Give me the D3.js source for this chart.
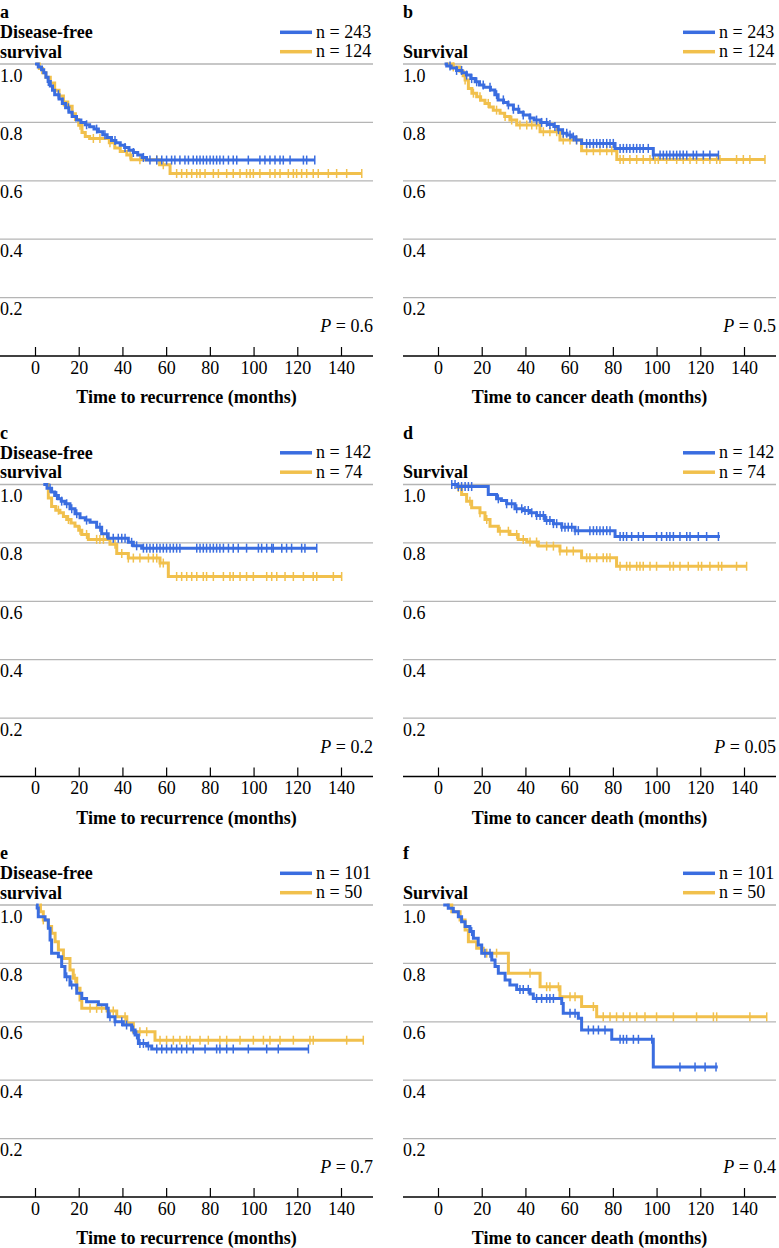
<!DOCTYPE html>
<html><head><meta charset="utf-8">
<script src="https://cdn.jsdelivr.net/npm/d3@7"></script>
<style>body{margin:0;background:#fff}svg{display:block}</style>
</head><body>
<svg id="c" width="779" height="1248"></svg>
<script>
// ---------- data ----------
const panelLetters = ["a","b","c","d","e","f"];
const titleLine1 = ["Disease-free","","Disease-free","","Disease-free",""];
const titleLine2 = ["survival","Survival","survival","Survival","survival","Survival"];
const nBlue = [243,243,142,142,101,101];
const nYellow = [124,124,74,74,50,50];
const pValues = ["0.6","0.5","0.2","0.05","0.7","0.4"];
const xTitles = ["Time to recurrence (months)","Time to cancer death (months)","Time to recurrence (months)","Time to cancer death (months)","Time to recurrence (months)","Time to cancer death (months)"];
const xTicks = [0,20,40,60,80,100,120,140];
const yTicks = [0.2,0.4,0.6,0.8,1.0];

// steps: [time, survival after step]
const blueA = [[0,1],[1.5,0.99],[3,0.98],[4,0.97],[5,0.955],[6,0.94],[7,0.925],[8,0.91],[9,0.895],[11,0.88],[12.5,0.865],[14,0.85],[15.5,0.835],[17,0.82],[19,0.808],[21,0.8],[23,0.792],[25,0.785],[27,0.777],[29,0.768],[31,0.758],[33,0.748],[35,0.738],[37,0.73],[39,0.722],[41,0.714],[43,0.705],[45,0.697],[47,0.688],[49,0.68],[51,0.671]];
const blueAEnd = 128;
const blueACens = [6.1,10.7,15.3,23.6,28.2,32,36.6,41.2,45,49.6,52.6,55.7,58,60.2,62.5,64,66.3,68.6,70.2,72.4,74,75.5,77,78.5,80.1,81.6,83.1,84.6,86.2,88.5,90.7,92.3,97.6,102.9,105.2,107.5,109.8,112.1,113.6,116.7,122.8,124.3,128];
const yellowA = [[0.5,1],[2,0.985],[3.5,0.97],[5,0.955],[7,0.935],[9,0.91],[11,0.89],[13,0.87],[15,0.855],[17,0.83],[18.5,0.81],[20,0.79],[21.5,0.765],[23,0.752],[25,0.745],[34,0.73],[36.5,0.712],[39,0.7],[42,0.688],[44,0.672],[57,0.655],[61.8,0.625]];
const yellowAEnd = 149.5;
const yellowACens = [13,20.6,26.7,29.7,34.3,38.9,43.5,48,55.7,58.7,64.8,67.1,69.4,71.7,74,75.5,77.8,81.6,83.9,87.7,90.7,93.8,96.8,98.4,99.9,102.9,107.5,109.8,112.1,115.9,118.2,119.7,122,124.3,127.3,129.6,134.2,138,142.6,149.5];

const blueB = [[3,1],[4,0.993],[6,0.986],[8.5,0.978],[11,0.97],[13,0.962],[15,0.95],[17,0.939],[19,0.928],[21,0.92],[24,0.911],[26,0.895],[27.5,0.877],[30,0.868],[32,0.86],[34.5,0.845],[37,0.835],[39,0.825],[42,0.815],[44,0.808],[47,0.8],[50,0.793],[53,0.786],[55,0.775],[57,0.763],[59,0.757],[61,0.75],[63,0.74],[65.7,0.728],[81,0.711],[98.5,0.688]];
const blueBEnd = 128.3;
const blueBCens = [5.5,8.5,10.8,13.1,15.4,17.7,20.7,23.8,26.8,29.9,32.2,34.5,36.8,39,42.1,45.1,47.4,49.7,51.2,53.5,55.1,57.3,58.9,60.4,61.9,63.4,68,69.5,71.1,72.6,74.1,75.6,77.2,78.7,80.2,83.3,84.8,86.3,87.8,89.4,90.9,92.4,93.9,96.2,98.5,101.6,103.1,104.6,106.1,107.7,109.2,110.7,112.2,113.8,116.8,118.3,121.4,124.4,128.3];
const yellowB = [[3.5,1],[7,0.99],[10,0.975],[11.5,0.96],[12.4,0.945],[13.9,0.916],[15.5,0.9],[17.7,0.888],[19.5,0.876],[21.5,0.865],[23.5,0.853],[25.3,0.842],[28.4,0.831],[30.5,0.82],[32.9,0.808],[36,0.791],[46.7,0.768],[55.8,0.74],[65.7,0.703],[81.8,0.673]];
const yellowBEnd = 149.6;
const yellowBCens = [7,12.4,16.2,19.2,23,26.8,30.7,33.7,37.5,40.6,42.9,45.1,48.2,51.2,54.3,57.3,60.4,63.4,68,71.1,74.1,77.2,79.5,83.3,84.8,87.8,90.9,93.9,97,99.3,100.8,104.6,109.2,112.2,115.3,118.3,121.4,124.4,127.5,129,136.6,139.7,142.7,149.6];

const blueC = [[3.8,1],[5.5,0.987],[7.6,0.974],[9,0.962],[10.7,0.951],[12,0.943],[13.7,0.934],[16,0.917],[18.3,0.9],[20.6,0.886],[23,0.878],[25.2,0.871],[28.2,0.854],[30.5,0.831],[33.5,0.816],[42.7,0.802],[45,0.79],[48.8,0.782]];
const blueCEnd = 128.9;
const blueCCens = [6.9,9.9,12.2,14.5,16.8,19.1,23.6,29.7,32.8,35.8,38.1,39.7,41.2,44.2,46.5,49.6,51.1,52.6,54.1,55.7,57.2,58.7,60.2,61.8,63.3,64.8,66.3,74,75.5,77,78.5,80.1,81.6,83.1,84.6,86.2,88.5,90.7,93,96.8,102.2,103.7,106,108.3,109,112.9,115.1,117.4,122,123.5,128.9];
const yellowC = [[5,1],[6.1,0.954],[7.6,0.925],[9.5,0.912],[11.4,0.903],[13,0.89],[14.5,0.88],[16.5,0.868],[18.3,0.857],[20,0.843],[21.4,0.829],[24.4,0.812],[34.3,0.795],[37.4,0.764],[42.7,0.748],[57.2,0.731],[61,0.685]];
const yellowCEnd = 140.3;
const yellowCCens = [10.7,15.3,20.6,23.6,28.2,29.7,31.3,36.6,39.7,42.7,45,48,51.9,54.1,55.7,57.2,58.7,64.8,67.1,69.4,71.7,74,77,78.5,81.6,86.2,89.2,90.7,93.8,96.8,99.9,106,108.3,110.6,114.4,118.2,122.8,127.3,128.9,136.5,140.3];

const blueD = [[6,1],[9,0.993],[23,0.966],[26.8,0.951],[29,0.945],[31.4,0.934],[35.2,0.917],[39,0.911],[42,0.903],[45.1,0.894],[48.9,0.877],[52.8,0.866],[56.6,0.854],[62.7,0.842],[81,0.822]];
const blueDEnd = 129;
const blueDCens = [6.3,7.8,9.3,10.8,12.4,13.9,15.4,27.6,31.4,33.7,36,38.3,39.8,41.3,42.9,45.1,46.7,48.2,49.7,51.2,52.8,54.3,56.6,58.1,59.6,61.2,62.7,64.2,69.5,71.1,72.6,74.1,75.6,77.2,78.7,83.3,84.8,86.3,88.6,91.7,93.9,100,102.3,104.6,106.1,107.7,110.7,113.8,115.3,119.1,122.9,128.3];
const yellowD = [[8,1],[9,0.99],[10.8,0.966],[13.1,0.943],[15.4,0.92],[19.2,0.903],[21.5,0.88],[23.8,0.857],[27.6,0.84],[32.9,0.829],[36.7,0.812],[40.6,0.803],[45.9,0.789],[55.8,0.772],[65.7,0.749],[81.7,0.72]];
const yellowDEnd = 141.2;
const yellowDCens = [9.3,14.6,19.2,22.3,28.4,32.2,36,39,42.1,45.1,49.7,52.8,55.8,58.9,61.9,68,69.5,72.6,75.6,77.2,78.7,83.3,86.3,87.8,90.9,92.4,93.9,97,100,106.1,107.7,110.7,114.5,119.1,120.6,124.4,128.3,129.8,136.6,141.2];

const blueE = [[0.5,1],[1,0.99],[1.5,0.96],[4.6,0.949],[6.1,0.92],[6.9,0.88],[7.6,0.835],[10.7,0.823],[12.2,0.789],[13.7,0.754],[16,0.726],[19.1,0.698],[21.4,0.68],[23.6,0.669],[29,0.658],[32.8,0.646],[33.5,0.617],[36.6,0.6],[40.4,0.589],[44.2,0.572],[45.8,0.555],[47.3,0.526],[51.1,0.517],[53.4,0.507]];
const blueEEnd = 125.1;
const blueECens = [14.5,16.8,34.3,36.6,39.7,41.9,45,46.5,48,49.6,51.9,55.7,58,60.2,62.5,64.8,67.1,69.4,72.4,77.8,83.1,84.6,87.7,90.7,97.6,106,111.3,125.1];
const yellowE = [[2,1],[2.5,0.977],[3.8,0.949],[6.1,0.926],[7.6,0.903],[9.2,0.874],[10.7,0.846],[13,0.817],[16,0.777],[17.5,0.749],[19.1,0.715],[20.6,0.675],[21.4,0.646],[33,0.637],[37.4,0.617],[42,0.595],[45,0.566],[54.9,0.537]];
const yellowEEnd = 150.2;
const yellowECens = [3.8,18.3,25.2,28.2,30.5,35.8,41.2,48,51.1,57.2,60.2,63.3,66.3,69.4,70.9,75.5,79.3,84.6,87.7,93.8,99.9,104.5,107.5,112.1,118.2,125.8,127.3,142.6,150.2];

const blueF = [[2.4,1],[4.7,0.989],[7,0.977],[9.3,0.96],[10.8,0.943],[12.4,0.926],[14.6,0.909],[16.2,0.886],[18.4,0.863],[20,0.835],[24.6,0.812],[26.1,0.789],[27.6,0.766],[30.7,0.743],[32.9,0.726],[36,0.711],[42.1,0.695],[43.6,0.68],[56.6,0.663],[57.3,0.629],[64.2,0.612],[65.7,0.572],[79.5,0.54],[98.5,0.445]];
const blueFEnd = 128;
const blueFCens = [15.4,21.5,23.8,37.5,39,41.3,45.1,47.4,49.7,51.2,52.8,60.4,62.7,68.8,71.1,73.4,76.4,83.3,84.8,86.3,89.4,91.7,97.8,110.7,117.6,122.2,127.2];
const yellowF = [[4,1],[6.3,0.977],[10.1,0.949],[12.4,0.914],[13.9,0.874],[17.7,0.852],[20.7,0.835],[32.2,0.766],[46.7,0.72],[55.8,0.686],[65.7,0.652],[72.6,0.617]];
const yellowFEnd = 150.4;
const yellowFCens = [22.3,26.8,42.1,49.7,51.2,55.1,60.4,62.7,71.1,75.6,78.7,81.7,84.8,87.8,90.9,94.7,100,107.7,118.3,126,127.5,142.7,150.4];

const blueSteps = [blueA,blueB,blueC,blueD,blueE,blueF];
const blueEnds = [blueAEnd,blueBEnd,blueCEnd,blueDEnd,blueEEnd,blueFEnd];
const blueCens = [blueACens,blueBCens,blueCCens,blueDCens,blueECens,blueFCens];
const yellowSteps = [yellowA,yellowB,yellowC,yellowD,yellowE,yellowF];
const yellowEnds = [yellowAEnd,yellowBEnd,yellowCEnd,yellowDEnd,yellowEEnd,yellowFEnd];
const yellowCens = [yellowACens,yellowBCens,yellowCCens,yellowDCens,yellowECens,yellowFCens];

// ---------- drawing ----------
const FONT = "'Liberation Serif', Tinos, 'Times New Roman', 'DejaVu Serif', serif";
const BLUE = "#3a6de0", YELLOW = "#f1c04c", GRID = "#b5b5b5";
const svg = d3.select("#c").attr("font-family", FONT).style("font-family", FONT);
const colX = [0, 403], rowY = [0, 420.5, 841];

function survAt(steps, t){ let s = steps[0][1]; for(const p of steps){ if(p[0] <= t) s = p[1]; } return s; }
function txt(g){ return g.append("text").attr("font-family", FONT).style("font-family", FONT).attr("fill", "#000"); }

panelLetters.forEach((L, i) => {
  const ox = colX[i % 2], oy = rowY[Math.floor(i / 2)];
  const g = svg.append("g");
  const x = d3.scaleLinear().domain([0,140]).range([ox+35, ox+341]);
  const y = d3.scaleLinear().domain([0,1]).range([oy+356, oy+64]);

  // grid
  g.selectAll(".grid").data(yTicks).join("line")
    .attr("x1", ox).attr("x2", ox+373).attr("y1", d=>y(d)).attr("y2", d=>y(d))
    .attr("stroke", GRID).attr("stroke-width", 1.3);
  g.selectAll(".ylab").data(yTicks).join("text")
    .attr("font-family", FONT).style("font-family", FONT)
    .attr("x", ox).attr("y", d=>y(d)+17.5).attr("font-size", 18)
    .text(d=>d.toFixed(1));

  // x axis
  g.append("line").attr("x1", ox).attr("x2", ox+373).attr("y1", y(0)).attr("y2", y(0))
    .attr("stroke", "#000").attr("stroke-width", 1.3);
  const ax = g.append("g").attr("transform", `translate(0,${y(0)})`)
    .call(d3.axisBottom(x).tickValues(xTicks).tickSizeInner(-9).tickSizeOuter(0).tickPadding(5));
  ax.attr("font-family", FONT).style("font-family", FONT);
  ax.select(".domain").remove();
  ax.selectAll(".tick line").attr("stroke", "#000").attr("stroke-width", 1.2);
  ax.selectAll(".tick text").attr("font-size", 18).style("font-family", FONT).attr("fill", "#000");
  txt(g).attr("x", ox+186.5).attr("y", oy+403).attr("text-anchor","middle")
    .attr("font-size", 18).attr("font-weight","bold").text(xTitles[i]);

  // titles
  txt(g).attr("x", ox).attr("y", oy+18).attr("font-size", 18).attr("font-weight","bold").text(L);
  txt(g).attr("x", ox).attr("y", oy+38).attr("font-size", 18).attr("font-weight","bold").text(titleLine1[i]);
  txt(g).attr("x", ox).attr("y", oy+57.5).attr("font-size", 18).attr("font-weight","bold").text(titleLine2[i]);

  // legend
  [[BLUE, nBlue[i], 32.3],[YELLOW, nYellow[i], 51.7]].forEach(([c, n, ly]) => {
    g.append("line").attr("x1", ox+280).attr("x2", ox+312).attr("y1", oy+ly).attr("y2", oy+ly)
      .attr("stroke", c).attr("stroke-width", 3.5);
    txt(g).attr("x", ox+316).attr("y", oy+ly+5.5)
      .attr("font-size", 18).text(`n = ${n}`);
  });

  // P value
  const pt = txt(g).attr("x", ox+373).attr("y", oy+332).attr("text-anchor","end").attr("font-size", 18);
  pt.append("tspan").attr("font-style","italic").text("P");
  pt.append("tspan").text(` = ${pValues[i]}`);

  // curves (yellow first, blue on top)
  const line = d3.line().x(d=>x(d[0])).y(d=>y(d[1])).curve(d3.curveStepAfter);
  [[yellowSteps[i], yellowEnds[i], yellowCens[i], YELLOW],[blueSteps[i], blueEnds[i], blueCens[i], BLUE]].forEach(([steps, end, cens, c]) => {
    const pts = steps.concat([[end, steps[steps.length-1][1]]]);
    g.append("path").datum(pts).attr("d", line).attr("fill","none").attr("stroke", c).attr("stroke-width", 3);
    g.selectAll(null).data(cens).join("line")
      .attr("x1", d=>x(d)).attr("x2", d=>x(d))
      .attr("y1", d=>y(survAt(steps,d))-4.5).attr("y2", d=>y(survAt(steps,d))+4.5)
      .attr("stroke", c).attr("stroke-width", 1.5);
  });
});
</script>
</body></html>
